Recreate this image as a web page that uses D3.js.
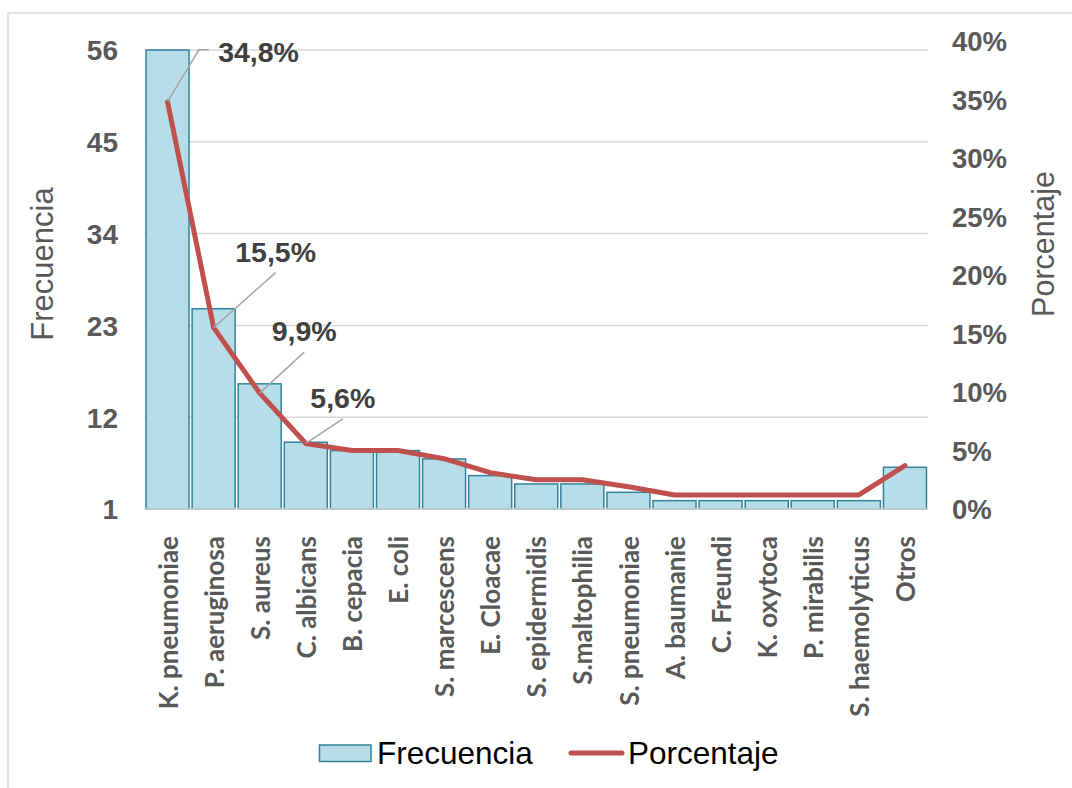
<!DOCTYPE html>
<html>
<head>
<meta charset="utf-8">
<script src="https://cdn.jsdelivr.net/npm/d3@7/dist/d3.min.js"></script>
<style>
  html, body { margin: 0; padding: 0; background: #fff; }
  svg { display: block; }
</style>
</head>
<body>
<svg id="chart" width="1072" height="788"></svg>
<script>
// ---- data ----
const categories = ["K. pneumoniae","P. aeruginosa","S. aureus","C. albicans","B. cepacia","E. coli","S. marcescens","E. Cloacae","S. epidermidis","S.maltophilia","S. pneumoniae","A. baumanie","C. Freundi","K. oxytoca","P. mirabilis","S. haemolyticus","Otros"];
const frecuencia = [56,25,16,9,8,8,7,5,4,4,3,2,2,2,2,2,6];
const porcentaje = [34.8,15.5,9.9,5.6,5.0,5.0,4.3,3.1,2.5,2.5,1.9,1.2,1.2,1.2,1.2,1.2,3.7];
const leftTicks = [1,12,23,34,45,56];
const rightTicks = [0,5,10,15,20,25,30,35,40];
const labeledIdx = [0,1,2,3];

// ---- layout ----
const svg = d3.select("#chart");
const plotTop = 41, plotBottom = 509, plotLeft = 144.5, plotRight = 928;
const gridColor = "#D9D9D9";

const x = d3.scaleBand().domain(categories).range([plotLeft, plotRight]).paddingInner(0.067).paddingOuter(0.0335);
const yL = d3.scaleLinear().domain([1, 57.08]).range([plotBottom, plotTop]);
const yR = d3.scaleLinear().domain([0, 40]).range([plotBottom, plotTop]);

// outer border (left & top)
svg.append("path").attr("d", "M8,788 L8,13 L1072,13").attr("fill","none").attr("stroke", gridColor).attr("stroke-width",1.5);

// gridlines
svg.append("g").selectAll("line").data(leftTicks).join("line")
  .attr("x1", plotLeft).attr("x2", plotRight)
  .attr("y1", d => yL(d)).attr("y2", d => yL(d))
  .attr("stroke", gridColor).attr("stroke-width", 1.5);

// bars
svg.append("g").selectAll("rect").data(frecuencia).join("rect")
  .attr("x", (d,i) => x(categories[i]))
  .attr("y", d => yL(d))
  .attr("width", x.bandwidth())
  .attr("height", d => plotBottom - yL(d))
  .attr("fill", "#B7DDE8")
  .attr("stroke", "#31849B")
  .attr("stroke-width", 1.5);

// left axis
const axL = d3.axisLeft(yL).tickValues(leftTicks).tickSize(0).tickPadding(0);
const gL = svg.append("g").attr("transform", "translate(118,0)").call(axL);
gL.select(".domain").remove();
gL.selectAll("text").attr("font-family","'Liberation Sans', Arial, sans-serif").attr("font-weight","bold")
  .attr("font-size", 28).attr("fill","#595959").attr("dy","0.35em").attr("x",0).attr("text-anchor","end");

// right axis
const axR = d3.axisRight(yR).tickValues(rightTicks).tickSize(0).tickPadding(0).tickFormat(d => d + "%");
const gR = svg.append("g").attr("transform", "translate(952,0)").call(axR);
gR.select(".domain").remove();
gR.selectAll("text").attr("font-family","'Liberation Sans', Arial, sans-serif").attr("font-weight","bold")
  .attr("font-size", 27.5).attr("fill","#595959").attr("dy","0.35em").attr("x",0).attr("text-anchor","start");

// bottom axis
const axB = d3.axisBottom(x).tickSize(0).tickPadding(0);
const gB = svg.append("g").attr("transform", `translate(0,${plotBottom})`).call(axB);
gB.select(".domain").attr("stroke", gridColor).attr("stroke-width", 1.5).attr("d", `M${plotLeft},0H${plotRight}`);
gB.selectAll("text")
  .attr("font-family","Lato, 'Open Sans', sans-serif").attr("font-weight","bold")
  .attr("font-size", 26).attr("fill","#595959")
  .attr("text-anchor","end").attr("dy","0.35em").attr("y",0)
  .attr("transform","translate(1,27) rotate(-90)");

// line
const line = d3.line().x((d,i) => x(categories[i]) + x.bandwidth()/2).y(d => yR(d));
svg.append("path").datum(porcentaje).attr("d", line)
  .attr("fill","none").attr("stroke","#C0504D").attr("stroke-width",5)
  .attr("stroke-linejoin","round").attr("stroke-linecap","round");

// data labels with leader lines
const labelOffsets = [
  {dx: 91, dy: -50, elbow: true},
  {dx: 62, dy: -76},
  {dx: 44.5, dy: -62},
  {dx: 37, dy: -45.5}
];
const fmt = v => v.toFixed(1).replace(".", ",") + "%";
labeledIdx.forEach((i, k) => {
  const px = x(categories[i]) + x.bandwidth()/2, py = yR(porcentaje[i]);
  const o = labelOffsets[k];
  const tx = px + o.dx, ty = py + o.dy;
  let d;
  if (o.elbow) {
    d = `M${px},${py} L${px+31.3},${ty-2} L${px+41.3},${ty-2}`;
  } else {
    d = `M${px},${py} L${tx},${ty+21}`;
  }
  svg.append("path").attr("d", d).attr("fill","none").attr("stroke","#A6A6A6").attr("stroke-width",1.5);
  svg.append("text").attr("x", tx).attr("y", ty).attr("dy","0.35em")
    .attr("text-anchor","middle")
    .attr("font-family","'Liberation Sans', Arial, sans-serif").attr("font-weight","bold")
    .attr("font-size", 28.5).attr("fill","#404040").text(fmt(porcentaje[i]));
});

// axis titles
svg.append("text").attr("transform","translate(53,264) rotate(-90)").attr("text-anchor","middle")
  .attr("font-family","'Liberation Sans', Arial, sans-serif").attr("font-size",31).attr("fill","#595959").text("Frecuencia");
svg.append("text").attr("transform","translate(1054,244) rotate(-90)").attr("text-anchor","middle")
  .attr("font-family","'Liberation Sans', Arial, sans-serif").attr("font-size",30.5).attr("fill","#595959").text("Porcentaje");

// legend
const lg = svg.append("g").attr("font-family","'Liberation Sans', Arial, sans-serif").attr("font-size",31.5).attr("fill","#000");
lg.append("rect").attr("x",319.5).attr("y",745).attr("width",51.5).attr("height",16.5)
  .attr("fill","#B7DDE8").attr("stroke","#31849B").attr("stroke-width",1.5);
lg.append("text").attr("x",377).attr("y",764).text("Frecuencia");
lg.append("line").attr("x1",571).attr("x2",622).attr("y1",753).attr("y2",753)
  .attr("stroke","#C0504D").attr("stroke-width",5).attr("stroke-linecap","round");
lg.append("text").attr("x",628).attr("y",764).text("Porcentaje");
</script>
</body>
</html>
